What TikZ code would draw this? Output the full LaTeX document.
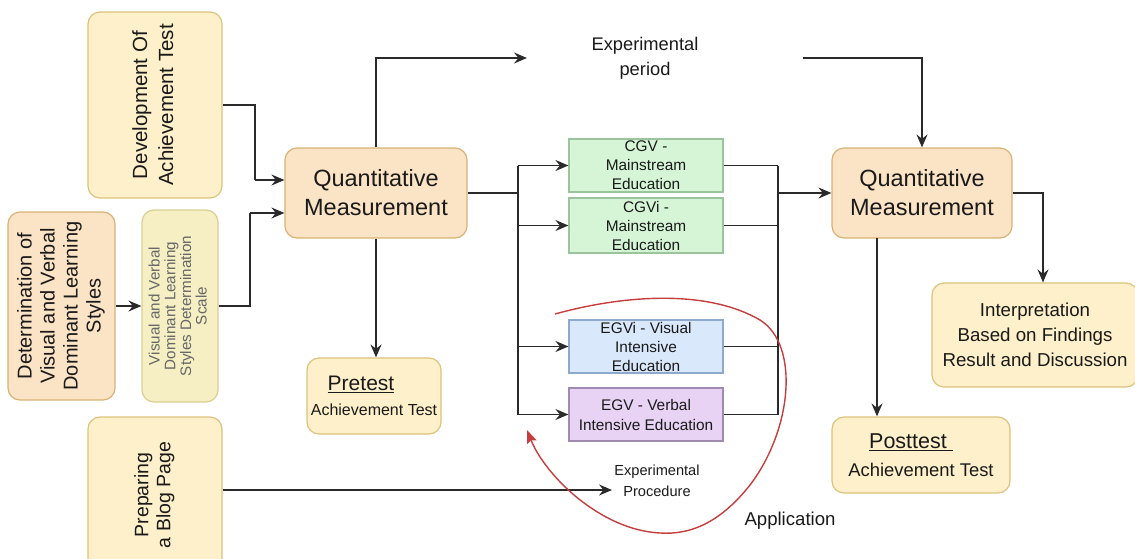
\documentclass[tikz,border=0pt]{standalone}
\usepackage{fontspec}
\setmainfont{Liberation Sans}
\usepackage{graphicx}
\usetikzlibrary{arrows.meta,calc}
\definecolor{ln}{HTML}{2A2A2A}
\definecolor{txt}{HTML}{1A1A1A}
\definecolor{ylwF}{HTML}{FDF0CA}
\definecolor{ylwD}{HTML}{DCC27A}
\definecolor{pchF}{HTML}{FBE3C5}
\definecolor{pchD}{HTML}{D9B276}
\definecolor{sclF}{HTML}{F6EFC4}
\definecolor{sclD}{HTML}{DACF92}
\definecolor{grnF}{HTML}{D5F5D6}
\definecolor{grnD}{HTML}{9CC49C}
\definecolor{bluF}{HTML}{DAE8FC}
\definecolor{bluD}{HTML}{8FA9CC}
\definecolor{purF}{HTML}{E8D3F5}
\definecolor{purD}{HTML}{A08AB2}
\definecolor{redc}{HTML}{C63D3D}
\newcommand{\fsz}[2]{\fontsize{#1}{#2}\selectfont}
\tikzset{
  box/.style={draw=#1D, fill=#1F, line width=1.2pt, rounded corners=12pt, inner sep=0pt,
    align=center, text=txt},
  sqbox/.style={draw=#1D, fill=#1F, line width=1.2pt, inner sep=0pt, align=center, text=txt},
  wire/.style={draw=ln, line width=1.8pt},
  arr/.style={wire, -{Stealth[length=13pt,width=11pt,inset=4.5pt]}},
  lbl/.style={inner sep=0pt, align=center, text=txt},
}
\begin{document}
\begin{tikzpicture}[x=1pt,y=-1pt]
\useasboundingbox (0,0) rectangle (1135,558);
% left column
\node[box=ylw, minimum width=134pt, minimum height=186pt] (dev) at (155,105)
  {\rotatebox{90}{\fsz{20.5}{26}\begin{tabular}{@{}c@{}}Development Of\\Achievement Test\end{tabular}}};
\node[box=pch, minimum width=107pt, minimum height=188pt] (det) at (61.5,306)
  {\rotatebox{90}{\fsz{20}{23}\begin{tabular}{@{}c@{}}Determination of\\Visual and Verbal\\Dominant Learning\\Styles\end{tabular}}};
\node[box=scl, minimum width=76pt, minimum height=192pt, text=black!60] (scale) at (180,306)
  {\rotatebox{90}{\fsz{15.2}{15.5}\begin{tabular}{@{}c@{}}Visual and Verbal\\Dominant Learning\\Styles Determination\\Scale\end{tabular}}};
\node[box=ylw, minimum width=134pt, minimum height=156pt] (blog) at (155,495)
  {\rotatebox{90}{\fsz{19.5}{22}\begin{tabular}{@{}c@{}}Preparing\\a Blog Page\end{tabular}}};
% measurement boxes
\node[box=pch, minimum width=182pt, minimum height=90pt, font=\fsz{23.5}{29}] (qm1) at (376,193)
  {Quantitative\\Measurement};
\node[box=ylw, minimum width=134pt, minimum height=76pt, font=\fsz{16}{25}] (pre) at (374,396)
  {{\fsz{21}{25}\underline{Pretest}\hspace*{26pt}}\\Achievement Test};
\node[box=pch, minimum width=180pt, minimum height=90pt, font=\fsz{23.5}{29}] (qm2) at (922,193)
  {Quantitative\\Measurement};
\node[box=ylw, minimum width=178pt, minimum height=76pt, font=\fsz{18.4}{28}] (post) at (921,455)
  {{\fsz{21.5}{28}\underline{Posttest\ }\hspace*{20pt}}\\Achievement Test};
\node[box=ylw, minimum width=206pt, minimum height=104pt, font=\fsz{18.7}{25}] (interp) at (1035,335)
  {Interpretation\\Based on Findings\\Result and Discussion};
% groups
\node[sqbox=grn, minimum width=154pt, minimum height=53pt, font=\fsz{15.4}{19}] (cgv) at (646,165.5)
  {CGV -\\Mainstream\\Education};
\node[sqbox=grn, minimum width=154pt, minimum height=55pt, font=\fsz{15.4}{19}] (cgvi) at (646,225.5)
  {CGVi -\\Mainstream\\Education};
\node[sqbox=blu, minimum width=154pt, minimum height=53pt, font=\fsz{15.4}{19}] (egvi) at (646,346.5)
  {EGVi - Visual\\Intensive\\Education};
\node[sqbox=pur, minimum width=154pt, minimum height=53pt, font=\fsz{15.4}{20}] (egv) at (646,414.5)
  {EGV - Verbal\\Intensive Education};
% free labels
\node[lbl, font=\fsz{18.3}{25}] (ept) at (645,58) {Experimental\\period};
\node[lbl, font=\fsz{14.6}{21}] (epr) at (657,481) {Experimental\\Procedure};
\node[lbl, font=\fsz{18.6}{22}] (app) at (790,521) {Application};
% coordinates
\coordinate (j1) at (255,180);
\coordinate (j2) at (250,213);
\coordinate (ep1) at (527,58);
\coordinate (ep2) at (803,58);
\coordinate (t1) at (376,58);
\coordinate (bl) at (518,193);
\coordinate (br) at (778,193);
\coordinate (ri) at (1043,193);
\coordinate (qb) at (877,238);
\coordinate (bp) at (612,490);
% connectors
\draw[wire] (dev.east) -| (j1);
\draw[arr] (j1) -- (j1 -| qm1.west);
\draw[wire] (scale.east) -| (j2);
\draw[arr] (j2) -- (j2 -| qm1.west);
\draw[arr] (det.east) -- (scale.west);
\draw[arr] (qm1.north) -- (t1) -- (ep1);
\draw[arr] (ep2) -| (qm2.north);
\draw[arr] (qm1.south) -- (qm1.south |- pre.north);
\draw[wire] (qm1.east) -- (bl);
\draw[wire] (bl |- cgv.west) -- (bl |- egv.west);
\foreach \n in {cgv,cgvi,egvi,egv}{
  \draw[arr] (bl |- \n.west) -- (\n.west);
  \draw[wire] (\n.east) -- (br |- \n.east);
}
\draw[wire] (br |- cgv.east) -- (br |- egv.east);
\draw[arr] (br) -- (qm2.west);
\draw[arr] (qm2.east) -- (ri) -- (ri |- interp.north);
\draw[arr] (qb) -- (qb |- post.north);
\draw[arr] (blog.east |- bp) -- (bp);
% red loop
\draw[redc, line width=1.4pt, -{Stealth[length=13pt,width=10pt,inset=2pt]}]
  (555,314) .. controls (620,296) and (705,288) .. (760,320)
  .. controls (800,345) and (792,430) .. (750,485)
  .. controls (720,523) and (690,535) .. (660,533)
  .. controls (600,530) and (545,475) .. (527,430);
\end{tikzpicture}
\end{document}
